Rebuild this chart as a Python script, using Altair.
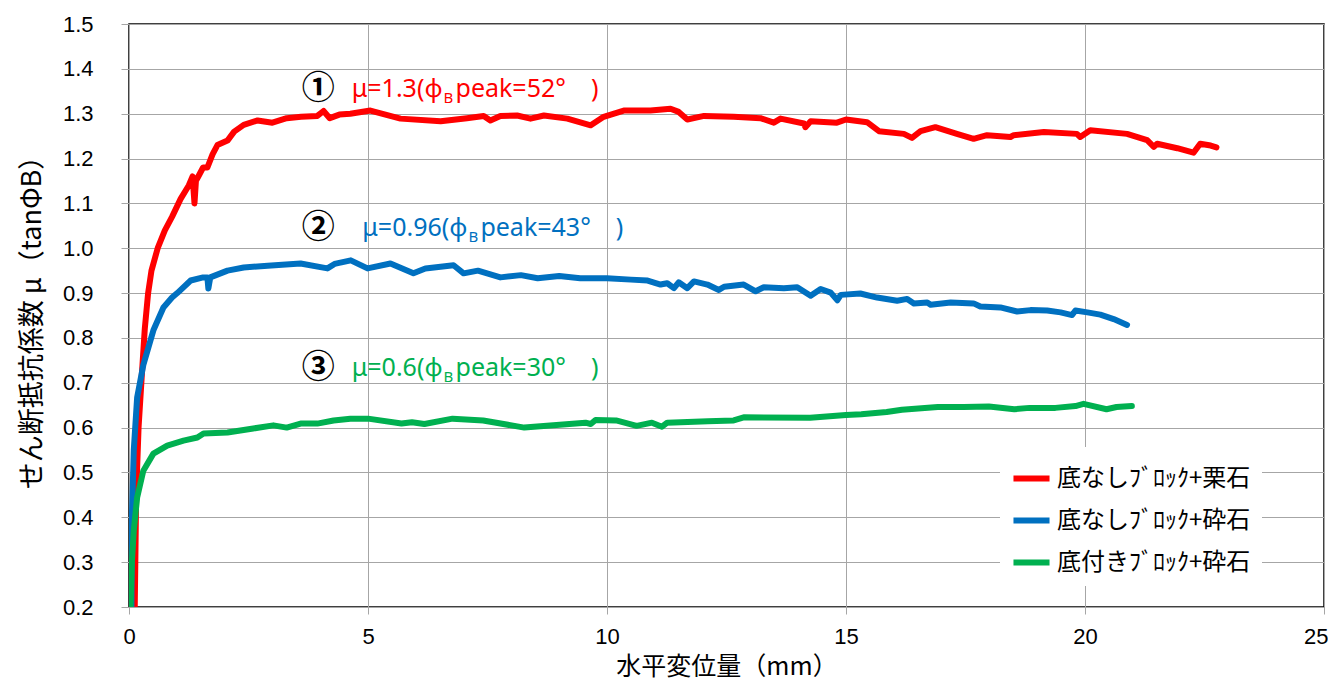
import altair as alt
import pandas as pd

# ---------------- data ----------------
series_names = ["底なしﾌﾞﾛｯｸ+栗石", "底なしﾌﾞﾛｯｸ+砕石", "底付きﾌﾞﾛｯｸ+砕石"]
series_colors = ["#FF0000", "#0070C0", "#00B050"]

red_x = [0.12, 0.15, 0.20, 0.27, 0.33, 0.40, 0.47, 0.60, 0.75, 0.90, 1.08, 1.25, 1.33, 1.37, 1.40,
         1.45, 1.55, 1.64, 1.75, 1.85, 2.06, 2.20, 2.40, 2.69, 3.00, 3.30, 3.60, 3.94, 4.07, 4.20,
         4.40, 4.63, 5.05, 5.68, 6.52, 7.07, 7.42, 7.56, 7.77, 8.12, 8.40, 8.68, 9.17, 9.66, 9.93,
         10.35, 10.91, 11.33, 11.50, 11.68, 12.03, 12.65, 13.21, 13.49, 13.63, 14.12, 14.15, 14.26,
         14.81, 15.00, 15.44, 15.69, 16.21, 16.38, 16.56, 16.87, 17.32, 17.67, 17.95, 18.44, 18.51,
         19.14, 19.83, 19.90, 20.11, 20.88, 21.30, 21.44, 21.51, 21.93, 22.27, 22.41, 22.63, 22.75]
red_y = [0.20, 0.45, 0.60, 0.72, 0.82, 0.90, 0.95, 1.00, 1.04, 1.07, 1.11, 1.14, 1.16, 1.10, 1.15,
         1.16, 1.18, 1.18, 1.21, 1.23, 1.24, 1.26, 1.275, 1.285, 1.28, 1.29, 1.293, 1.295, 1.306, 1.29,
         1.298, 1.30, 1.307, 1.289, 1.283, 1.29, 1.295, 1.285, 1.295, 1.296, 1.289, 1.296, 1.289, 1.274, 1.293,
         1.307, 1.307, 1.311, 1.304, 1.287, 1.295, 1.293, 1.29, 1.28, 1.289, 1.278, 1.27, 1.283,
         1.28, 1.287, 1.281, 1.261, 1.255, 1.246, 1.261, 1.27, 1.255, 1.244, 1.252, 1.248, 1.252,
         1.259, 1.255, 1.248, 1.263, 1.255, 1.241, 1.226, 1.233, 1.223, 1.213, 1.233, 1.229, 1.225]

blue_x = [0.05, 0.06, 0.10, 0.17, 0.30, 0.51, 0.72, 0.90, 1.01, 1.29, 1.55, 1.64, 1.66, 1.70, 2.06,
          2.40, 2.90, 3.59, 4.15, 4.30, 4.64, 4.99, 5.47, 5.95, 6.20, 6.79, 7.00, 7.30, 7.77, 8.20,
          8.55, 9.00, 9.44, 10.00, 10.50, 10.85, 11.12, 11.26, 11.40, 11.50, 11.68, 11.82, 12.10,
          12.34, 12.45, 12.86, 13.11, 13.28, 13.70, 13.98, 14.26, 14.47, 14.68, 14.82, 14.89, 15.30,
          15.65, 16.07, 16.28, 16.42, 16.70, 16.77, 17.19, 17.67, 17.81, 18.23, 18.58, 18.86, 19.21,
          19.49, 19.73, 19.80, 20.05, 20.32, 20.60, 20.88]
blue_y = [0.20, 0.40, 0.55, 0.667, 0.74, 0.817, 0.868, 0.89, 0.90, 0.928, 0.935, 0.935, 0.91, 0.935, 0.95,
          0.957, 0.961, 0.966, 0.955, 0.965, 0.973, 0.955, 0.966, 0.944, 0.955, 0.962, 0.944, 0.95, 0.935, 0.94,
          0.933, 0.938, 0.933, 0.933, 0.93, 0.928, 0.919, 0.922, 0.911, 0.924, 0.911, 0.926, 0.919,
          0.907, 0.914, 0.919, 0.904, 0.913, 0.911, 0.913, 0.894, 0.909, 0.901, 0.884, 0.896, 0.899,
          0.89, 0.883, 0.887, 0.877, 0.879, 0.874, 0.879, 0.877, 0.870, 0.868, 0.859, 0.862, 0.861,
          0.857, 0.851, 0.861, 0.857, 0.852, 0.842, 0.829]

green_x = [0.03, 0.06, 0.10, 0.17, 0.30, 0.51, 0.80, 1.14, 1.43, 1.56, 2.06, 2.60, 3.02, 3.30, 3.59,
           3.94, 4.28, 4.63, 5.00, 5.70, 5.92, 6.18, 6.77, 7.41, 8.27, 9.55, 9.66, 9.76, 10.19, 10.62,
           10.94, 11.15, 11.26, 12.11, 12.65, 12.86, 14.25, 15.00, 15.32, 15.85, 16.17, 16.92, 17.46,
           17.99, 18.52, 18.84, 19.38, 19.80, 19.97, 20.45, 20.66, 20.98]
green_y = [0.20, 0.30, 0.37, 0.444, 0.504, 0.542, 0.56, 0.571, 0.578, 0.587, 0.589, 0.598, 0.605, 0.60, 0.609,
           0.609, 0.616, 0.62, 0.62, 0.609, 0.612, 0.608, 0.62, 0.616, 0.600, 0.611, 0.608, 0.617, 0.616, 0.604,
           0.611, 0.602, 0.611, 0.614, 0.616, 0.623, 0.622, 0.628, 0.630, 0.635, 0.640, 0.646, 0.646,
           0.647, 0.641, 0.644, 0.644, 0.648, 0.653, 0.641, 0.646, 0.648]

x_ticks = [0, 5, 10, 15, 20, 25]
y_ticks = [0.2, 0.3, 0.4, 0.5, 0.6, 0.7, 0.8, 0.9, 1.0, 1.1, 1.2, 1.3, 1.4, 1.5]

# annotations
ann_marks = ["①", "②", "③"]
ann_mark_x = [3.96, 3.96, 3.96]
ann_y = [1.354, 1.046, 0.734]
ann_pre = ["μ=1.3(ϕ", "μ=0.96(ϕ", "μ=0.6(ϕ"]
ann_sub = ["B", "B", "B"]
ann_post = ["peak=52°　)", "peak=43°　)", "peak=30°　)"]
ann_anchor_x = [6.58, 7.10, 6.58]
ann_colors = series_colors

# ---------------- tables ----------------
rows = []
for name, xs, ys in [(series_names[0], red_x, red_y),
                     (series_names[1], blue_x, blue_y),
                     (series_names[2], green_x, green_y)]:
    for i, (xv, yv) in enumerate(zip(xs, ys)):
        rows.append({"series": name, "x": xv, "y": yv, "idx": i})
df = pd.DataFrame(rows)

ann = pd.DataFrame({
    "mark": ann_marks, "mx": ann_mark_x, "y": ann_y,
    "pre": ann_pre, "sub": ann_sub, "post": ann_post,
    "ax": ann_anchor_x, "color": ann_colors,
})

JP = "Noto Sans CJK JP"

xscale = alt.Scale(domain=[0, 25], nice=False)
yscale = alt.Scale(domain=[0.2, 1.5], nice=False, zero=False)

last_x = x_ticks[-1]

lines = alt.Chart(df).mark_line(strokeWidth=6, strokeJoin="round", strokeCap="round", clip=True).encode(
    x=alt.X("x:Q", scale=xscale,
            axis=alt.Axis(values=x_ticks, format="d", title="水平変位量（mm）", labelFlush=False,
                          labelAlign={"condition": {"test": f"datum.value == {last_x}", "value": "right"},
                                      "value": "center"},
                          labelOffset={"condition": {"test": f"datum.value == {last_x}", "value": 4},
                                       "value": 0},
                          tickSize=7, labelPadding=12, titlePadding=7, titleFontSize=25)),
    y=alt.Y("y:Q", scale=yscale,
            axis=alt.Axis(values=y_ticks, format=".1f", title="せん断抵抗係数 μ（tanΦB）",
                          tickSize=8, labelPadding=28, titlePadding=16, titleFontSize=27)),
    color=alt.Color("series:N",
                    scale=alt.Scale(domain=series_names, range=series_colors),
                    legend=alt.Legend(title=None, orient="none", legendX=871, legendY=423,
                                      symbolType="stroke", symbolSize=1300, symbolStrokeWidth=6,
                                      labelFont=JP, labelFontSize=24, labelColor="black", labelLimit=0,
                                      labelOffset=4, rowPadding=8, padding=10,
                                      fillColor="white", strokeColor="white")),
    order="idx:Q",
)

t_mark = alt.Chart(ann).mark_text(font=JP, fontSize=33, fontWeight="bold", color="black",
                                  baseline="middle", align="center").encode(
    x=alt.X("mx:Q", scale=xscale), y=alt.Y("y:Q", scale=yscale), text="mark:N")

t_pre = alt.Chart(ann).mark_text(font="Noto Sans", fontSize=25, baseline="middle", align="right", dx=-1).encode(
    x=alt.X("ax:Q", scale=xscale), y=alt.Y("y:Q", scale=yscale), text="pre:N",
    color=alt.Color("color:N", scale=None))

t_sub = alt.Chart(ann).mark_text(font="Noto Sans", fontSize=15, baseline="middle", align="left", dy=9).encode(
    x=alt.X("ax:Q", scale=xscale), y=alt.Y("y:Q", scale=yscale), text="sub:N",
    color=alt.Color("color:N", scale=None))

t_post = alt.Chart(ann).mark_text(font="Noto Sans", fontSize=25, baseline="middle", align="left", dx=12).encode(
    x=alt.X("ax:Q", scale=xscale), y=alt.Y("y:Q", scale=yscale), text="post:N",
    color=alt.Color("color:N", scale=None))

chart = alt.layer(lines, t_mark, t_pre, t_sub, t_post).properties(
    width=1195, height=583,
    autosize=alt.AutoSizeParams(type="none"),
    padding={"left": 121, "top": 16, "right": 4, "bottom": 74},
).configure_view(
    stroke="black", strokeWidth=1.5
).configure_axis(
    grid=True, gridColor="#a6a6a6", gridWidth=1, domain=False,
    tickColor="#a6a6a6", tickWidth=1,
    labelFont="Liberation Sans", labelFontSize=22, labelColor="black",
    titleFont=JP, titleFontSize=22, titleFontWeight="normal", titleColor="black",
)

chart.save("out.html", embed_options={"renderer": "svg", "actions": False})
